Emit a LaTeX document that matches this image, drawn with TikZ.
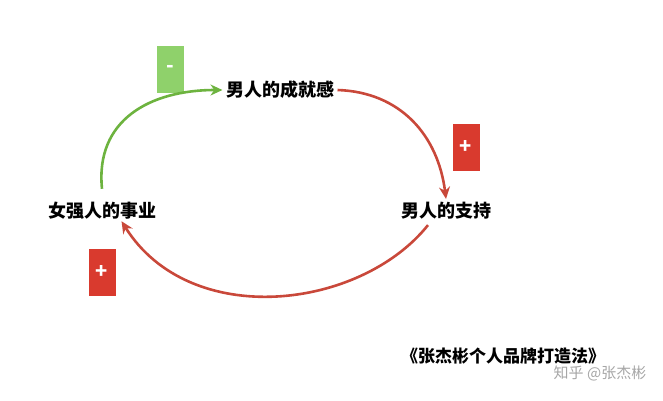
\documentclass[tikz,border=0pt]{standalone}
\usepackage{fontspec}
\setmainfont{Noto Sans CJK SC}
\usetikzlibrary{arrows.meta}
\definecolor{loopgreen}{HTML}{6DB33F}
\definecolor{boxgreen}{HTML}{8FD16B}
\definecolor{loopred}{HTML}{C9483A}
\definecolor{boxred}{HTML}{D93A2E}
\tikzset{
  factor/.style={font=\bfseries\fontsize{18}{20}\selectfont},
  signbox/.style={minimum width=27pt,minimum height=47pt,inner sep=0pt,
    text=white,font=\bfseries\fontsize{20}{20}\selectfont},
  link/.style={line width=2.6pt,-{Stealth[length=12pt,width=11pt]}},
}
\begin{document}
\begin{tikzpicture}[x=1pt,y=-1pt]
  \useasboundingbox (0,0) rectangle (663,400);
  \node (cj) [factor] at (280,90) {男人的成就感};
  \node (zc) [factor] at (446,211) {男人的支持};
  \node (sy) [factor] at (102,211) {女强人的事业};
  \node (bg) [signbox,fill=boxgreen] at (170,69) {-};
  \node (br) [signbox,fill=boxred] at (466,147) {+};
  \node (bl) [signbox,fill=boxred] at (102,272) {+};
  \coordinate (se) at ([xshift=-38pt,yshift=2pt]sy.south east);
  \draw[link,loopgreen] (sy.north) ++(0,-10) coordinate (gs)
    .. controls (95,120) and (150,90) .. (cj.west);
  \draw[link,loopred] (cj.east) .. controls (400,92) and (438,135) .. (zc.north);
  \draw[link,loopred] (zc.south) ++(-18,2) coordinate (rs)
    .. controls (360,310) and (190,330) .. (se);
  \node (bk) [font=\bfseries\fontsize{17}{19}\selectfont] at (503,356) {《张杰彬个人品牌打造法》};
  \node (wm) [text=black!35,font=\fontsize{15}{17}\selectfont] at (600,373) {知乎 @张杰彬};
\end{tikzpicture}
\end{document}
